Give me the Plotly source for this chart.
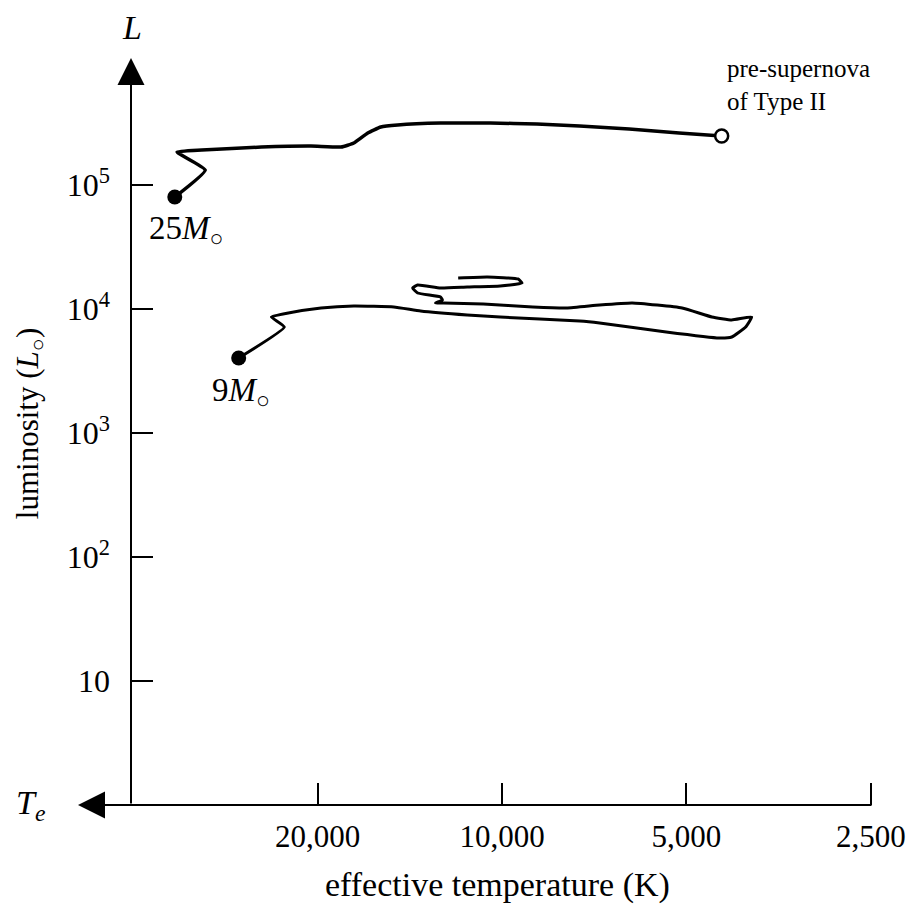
import plotly.graph_objects as go

# 25 solar-mass track (effective temperature K, luminosity L_sun)
t25 = [34200, 30500, 33900, 30900, 24700, 20500, 18300, 17450, 16560, 15770,
       14800, 12600, 10450, 8770, 7470, 6200, 5140, 4380]
l25 = [80000, 132000, 184500, 191500, 202400, 206300, 202400, 218200, 262600, 293500,
       304700, 316200, 316200, 310400, 299100, 282900, 262600, 248400]

# 9 solar-mass track
t9 = [26900, 22660, 23790, 22320, 19740, 17450, 15020, 13580, 11400, 10070,
      7470, 6930, 5395, 4426, 4217, 4002, 3913, 4217, 4544, 5083,
      6129, 6930, 7843, 8904, 10730, 12460, 12840, 12510, 12600, 13730,
      13990, 13730, 12600, 11400, 10070, 9276, 9418, 10570, 11790]
l9 = [4030, 7160, 8620, 9285, 10190, 10570, 10380, 9636, 8947, 8620,
      8000, 7710, 6525, 5834, 5945, 7160, 8620, 8150, 8620, 10190,
      11180, 10770, 10190, 10380, 10970, 11180, 11180, 11820, 12500, 13460,
      14770, 15610, 14770, 15040, 15330, 16210, 17460, 18130, 17780]

x_ticks = [20000, 10000, 5000, 2500]
x_ticktext = ["20,000", "10,000", "5,000", "2,500"]
y_ticks = [10, 100, 1000, 10000, 100000]
y_ticktext = ["10", "10<sup>2</sup>", "10<sup>3</sup>", "10<sup>4</sup>", "10<sup>5</sup>"]

SERIF = "Liberation Serif"

fig = go.Figure()
fig.add_trace(go.Scatter(x=t25, y=l25, mode="lines",
                         line=dict(color="black", width=3.5, shape="spline", smoothing=0.4),
                         hoverinfo="skip"))
fig.add_trace(go.Scatter(x=t9, y=l9, mode="lines",
                         line=dict(color="black", width=3, shape="spline", smoothing=0.4),
                         hoverinfo="skip"))
# start points (filled) and pre-supernova end point (open)
fig.add_trace(go.Scatter(x=[t25[0], t9[0]], y=[l25[0], l9[0]], mode="markers",
                         marker=dict(color="black", size=15), hoverinfo="skip"))
fig.add_trace(go.Scatter(x=[t25[-1]], y=[l25[-1]], mode="markers",
                         marker=dict(color="white", size=13,
                                     line=dict(color="black", width=2.5)),
                         hoverinfo="skip"))

fig.update_layout(
    width=908, height=910,
    margin=dict(l=131, r=35, t=61, b=105, autoexpand=False),
    paper_bgcolor="white", plot_bgcolor="white",
    showlegend=False,
    font=dict(family=SERIF, color="black", size=30),
    xaxis=dict(type="log", range=[4.6055, 3.3945], showgrid=False, zeroline=False,
               showline=False, tickvals=x_ticks, ticktext=x_ticktext,
               ticks="inside", ticklen=22, tickwidth=2, tickcolor="black",
               tickfont=dict(family=SERIF, size=31), ticklabelstandoff=10,
               ticklabeloverflow="allow", automargin=False),
    yaxis=dict(type="log", range=[0, 6], showgrid=False, zeroline=False,
               showline=False, tickvals=y_ticks, ticktext=y_ticktext,
               ticks="inside", ticklen=22, tickwidth=2, tickcolor="black",
               tickfont=dict(family=SERIF, size=32), ticklabelstandoff=20,
               automargin=False),
)

# axis arrows
fig.add_annotation(xref="paper", yref="paper", x=-0.0714, y=0, ax=795, ay=0,
                   axref="pixel", ayref="pixel", text="", showarrow=True,
                   arrowhead=2, arrowsize=2.7, arrowwidth=2, arrowcolor="black")
fig.add_annotation(xref="paper", yref="paper", x=0, y=1.004, ax=0, ay=747,
                   axref="pixel", ayref="pixel", text="", showarrow=True,
                   arrowhead=2, arrowsize=2.7, arrowwidth=2, arrowcolor="black")

def label(text, x, y, xanchor="center", yanchor="middle", size=30, angle=0, align="center"):
    fig.add_annotation(xref="paper", yref="paper", x=x, y=y, text=text,
                       showarrow=False, xanchor=xanchor, yanchor=yanchor,
                       textangle=angle, align=align,
                       font=dict(family=SERIF, size=size, color="black"))

label("<i>L</i>", 0.0013, 1.0444, size=34)
label("<i>T</i><sub><i>e</i></sub>", -0.1348, 0.0, size=34)
label("pre-supernova<br>of Type II", 0.8005, 0.9677, xanchor="left", size=25, align="left")
label("25<i>M</i><sub>○</sub>", 0.0216, 0.7728, xanchor="left", size=33)
label("9<i>M</i><sub>○</sub>", 0.1065, 0.5551, xanchor="left", size=33)
label("luminosity (<i>L</i><sub>○</sub>)", -0.136, 0.512, size=31, angle=-90)
label("effective temperature (K)", 0.4933, -0.1075, size=34)

fig.write_html("out.html", post_script="document.body.style.margin='0px';",
               config={"displayModeBar": False})
